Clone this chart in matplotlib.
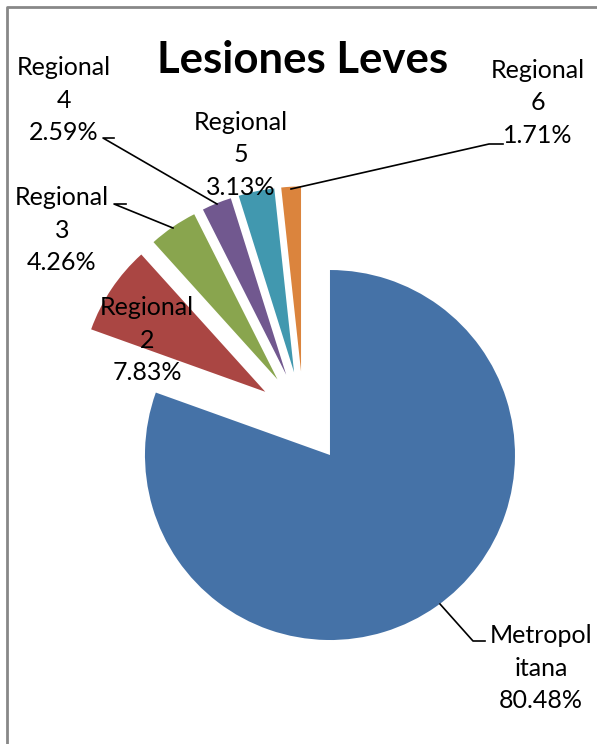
import matplotlib
matplotlib.use('Agg')
import matplotlib.pyplot as plt

plt.rcParams['font.family'] = ['Lato', 'DejaVu Sans']

# ------------------------------------------------------
names = ['Metropol\nitana', 'Regional\n2', 'Regional\n3', 'Regional\n4', 'Regional\n5', 'Regional\n6']
shares = [80.48, 7.83, 4.26, 2.59, 3.13, 1.71]
colors = ['#4572A7', '#AA4643', '#89A54E', '#71588F', '#4198AF', '#DB843D']

W, H = 597, 744
fig = plt.figure(figsize=(W / 100, H / 100), dpi=100)
ax = fig.add_axes([0, 0, 1, 1])

# pie in pixel units, y flipped so it reads like the picture
cx, cy, r = 303.5, H - 417.4, 185
ax.pie(shares, colors=colors, startangle=90, counterclock=False,
       explode=[46] * len(shares), center=(cx, cy), radius=r,
       wedgeprops=dict(linewidth=0))
ax.set_xlim(0, W)
ax.set_ylim(0, H)
ax.set_aspect('equal')
ax.axis('off')

# label block positions (px, from top) and leader lines
label_pos = [(541, 668), (147, 340), (62, 230), (64, 100), (241, 155), (538, 103)]
leaders = {
    0: [(485, 641), (473, 641), (440, 604)],
    2: [(126, 204), (114, 204), (173, 228)],
    3: [(114, 138), (103, 138), (217, 204)],
    5: [(503, 144), (489, 144), (291, 189)],
}

for i, (name, v) in enumerate(zip(names, shares)):
    x, y = label_pos[i]
    ax.text(x, H - y, f'{name}\n{v:.2f}%', ha='center', va='center',
            fontsize=18, linespacing=1.48, color='black')
    if i in leaders:
        pts = leaders[i]
        ax.plot([p[0] for p in pts], [H - p[1] for p in pts], color='black', lw=1.2)

ax.text(303, H - 60, 'Lesiones Leves', ha='center', va='center',
        fontsize=31.5, fontweight='bold')

# chart frame
ax.plot([7, 7, W], [0, H - 7, H - 7], color='#888888', lw=2, clip_on=False)

fig.savefig('out.png', dpi=100)
